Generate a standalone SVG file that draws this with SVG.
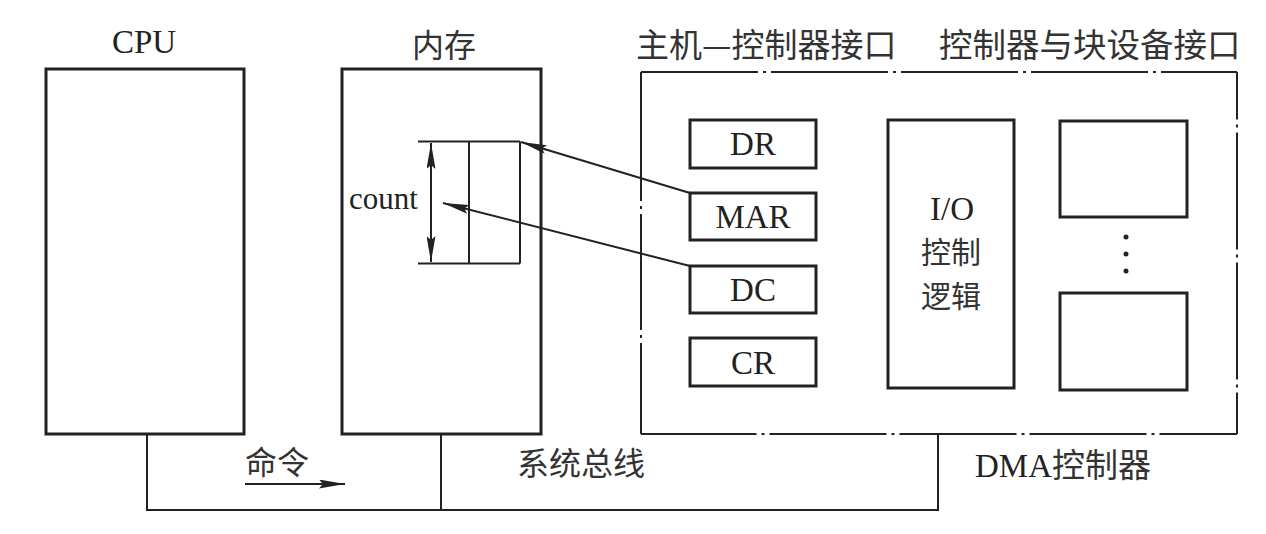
<svg xmlns="http://www.w3.org/2000/svg" width="1266" height="534" viewBox="0 0 1266 534">
<style>
.box{fill:none;stroke:#222;stroke-width:3}
.thin{fill:none;stroke:#222;stroke-width:2}
.dd{fill:none;stroke:#222;stroke-width:2;stroke-dasharray:117,5,3,5}
.en{font-family:"Liberation Serif","Times New Roman",serif;font-size:33px;fill:#222}
.zh{font-family:"Noto Sans CJK SC","Noto Sans",sans-serif;font-size:32px;fill:#333}
.mid{text-anchor:middle}
</style>
<defs>
<marker id="ah" viewBox="0 0 26 9" refX="26" refY="4.5" markerWidth="26" markerHeight="9" markerUnits="userSpaceOnUse" orient="auto-start-reverse">
<path d="M0,0 L26,4.5 L0,9 L4,4.5 z" fill="#222"/>
</marker>
</defs>
<rect width="1266" height="534" fill="#fff"/>

<g id="cpu">
<rect class="box" x="46" y="69" width="198" height="365"/>
<text class="en mid" x="144" y="53">CPU</text>
</g>

<g id="memory">
<rect class="box" x="342" y="69" width="199" height="365"/>
<text class="zh mid" x="444" y="57">内存</text>
<g id="buffer">
<line class="thin" x1="418" y1="141.5" x2="520" y2="141.5"/>
<line class="thin" x1="418" y1="263.5" x2="520" y2="263.5"/>
<line class="thin" x1="469" y1="141.5" x2="469" y2="263.5"/>
<line class="thin" x1="520" y1="141.5" x2="520" y2="263.5"/>
<line class="thin" x1="431" y1="143" x2="431" y2="262" marker-start="url(#ah)" marker-end="url(#ah)"/>
<text class="en" x="349" y="209" style="font-size:31px">count</text>
</g>
</g>

<g id="dma">
<line class="dd" x1="641" y1="72" x2="1237" y2="72"/>
<line class="dd" x1="1237" y1="72" x2="1237" y2="434" style="stroke-dashoffset:69.5"/>
<line class="dd" x1="641" y1="434" x2="1237" y2="434" style="stroke-dashoffset:1.5"/>
<line class="dd" x1="641" y1="72" x2="641" y2="434" style="stroke-dasharray:129,5,3,5,116,5,3,5,400"/>
<text class="zh" x="636" y="57" style="font-size:33px">主机—控制器接口</text>
<text class="zh" x="939" y="57" style="font-size:33.5px">控制器与块设备接口</text>
<text x="975" y="477"><tspan class="en">DMA</tspan><tspan class="zh" style="font-size:33px">控制器</tspan></text>
</g>

<g id="dr">
<rect class="box" x="690" y="120" width="126" height="48"/>
<text class="en mid" x="753" y="155">DR</text>
</g>
<g id="mar">
<rect class="box" x="690" y="193" width="126" height="47"/>
<text class="en mid" x="753" y="228">MAR</text>
</g>
<g id="dc">
<rect class="box" x="690" y="266" width="126" height="47"/>
<text class="en mid" x="753" y="301">DC</text>
</g>
<g id="cr">
<rect class="box" x="690" y="338" width="126" height="48"/>
<text class="en mid" x="753" y="374">CR</text>
</g>

<g id="io">
<rect class="box" x="888" y="120" width="126" height="268"/>
<text class="en mid" x="952" y="220">I/O</text>
<text class="zh mid" x="951" y="263" style="font-size:30px">控制</text>
<text class="zh mid" x="951" y="307" style="font-size:30px">逻辑</text>
</g>

<g id="dev1">
<rect class="box" x="1060" y="121" width="127" height="96"/>
</g>
<g id="dots">
<circle cx="1126" cy="237" r="2.5" fill="#222"/>
<circle cx="1126" cy="254" r="2.5" fill="#222"/>
<circle cx="1126" cy="271" r="2.5" fill="#222"/>
</g>
<g id="dev2">
<rect class="box" x="1060" y="293" width="127" height="97"/>
</g>

<g id="bus">
<polyline class="thin" points="147,434 147,510 938,510 938,434"/>
<line class="thin" x1="441" y1="434" x2="441" y2="510"/>
<text class="zh" x="517" y="475">系统总线</text>
<text class="zh" x="245" y="474">命令</text>
<line class="thin" x1="245" y1="484" x2="345" y2="484" marker-end="url(#ah)"/>
</g>

<g id="connectors">
<line class="thin" x1="690" y1="193" x2="521" y2="142" marker-end="url(#ah)"/>
<line class="thin" x1="690" y1="266" x2="443" y2="203" marker-end="url(#ah)"/>
</g>
</svg>
